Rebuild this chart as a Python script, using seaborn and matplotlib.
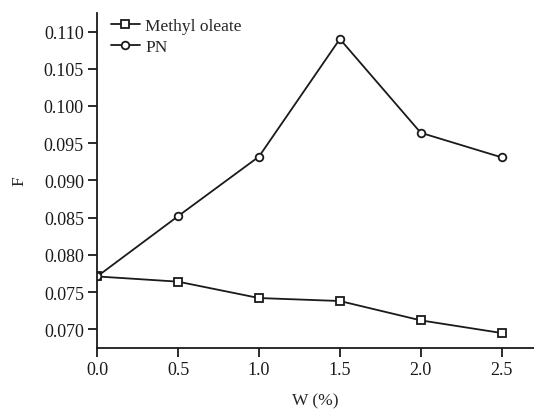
import numpy as np
import pandas as pd
import seaborn as sns
import matplotlib.pyplot as plt

w = [0.0, 0.5, 1.0, 1.5, 2.0, 2.5]
methyl_oleate = [0.0771, 0.0764, 0.0742, 0.0738, 0.0712, 0.0695]
pn = [0.0771, 0.0852, 0.0932, 0.1090, 0.0964, 0.0931]

df = pd.DataFrame({"W": w * 2,
                   "F": methyl_oleate + pn,
                   "series": ["Methyl oleate"] * len(w) + ["PN"] * len(w)})

sns.set_style("ticks")
plt.rcParams['font.family'] = ['Liberation Serif', 'DejaVu Serif']
plt.rcParams['font.size'] = 12

fig = plt.figure(figsize=(5.34, 4.10), dpi=100)
ax = fig.add_axes([0.182, 0.149, 0.818, 0.817])

sns.lineplot(data=df, x="W", y="F", hue="series", style="series",
             markers={"Methyl oleate": "s", "PN": "o"}, dashes=False,
             palette={"Methyl oleate": "#1a1a1a", "PN": "#1a1a1a"},
             markerfacecolor="white", markeredgecolor="#1a1a1a",
             markeredgewidth=1.3, markersize=5.5, linewidth=1.3, ax=ax)

ax.set_xlim(0, 2.7)
ax.set_ylim(0.0675, 0.1125)
ax.set_xticks(w)
ax.set_xticklabels([f"{v:.1f}" for v in w])
yt = [0.070, 0.075, 0.080, 0.085, 0.090, 0.095, 0.100, 0.105, 0.110]
ax.set_yticks(yt)
ax.set_yticklabels([f"{v:.3f}" for v in yt])
ax.set_xlabel("W (%)", fontsize=12.5, labelpad=10)
ax.set_ylabel("F", fontsize=12.5, labelpad=12)
ax.tick_params(direction="out", length=6.5, width=1.3, colors="#1a1a1a",
               labelsize=13, pad=3)
for s in ["left", "bottom"]:
    ax.spines[s].set_linewidth(1.3)
    ax.spines[s].set_color("#1a1a1a")
sns.despine(ax=ax)

leg = ax.legend(loc="upper left", frameon=False, fontsize=12.5, handlelength=1.7,
                handletextpad=0.3, borderaxespad=0.0, labelspacing=0.25,
                bbox_to_anchor=(0.015, 1.005))
for h in leg.legend_handles:
    h.set_markerfacecolor("white")
    h.set_markeredgecolor("#1a1a1a")

fig.savefig("out.png", dpi=100)
